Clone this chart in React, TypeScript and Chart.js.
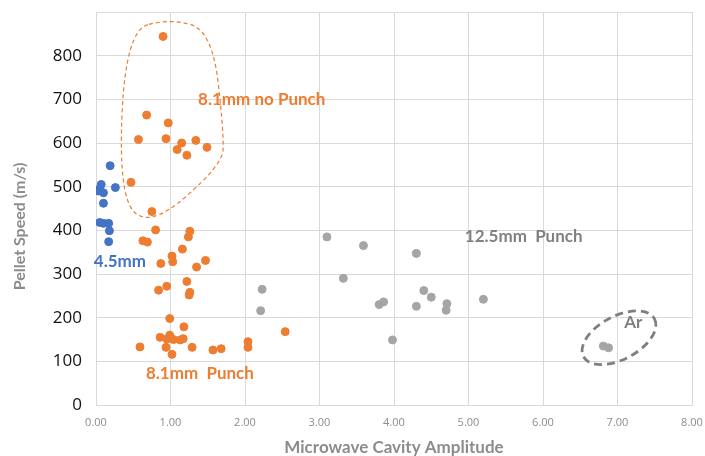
import React, { useEffect, useRef } from "react";
import { Chart, registerables } from "chart.js";

Chart.register(...registerables);

// Blue series: 4.5mm
const blueX = [0.19, 0.07, 0.05, 0.1, 0.26, 0.1, 0.05, 0.1, 0.17, 0.18, 0.17, 0.03];
const blueY = [548, 505, 495, 486, 498, 462, 418, 416, 416, 399, 374, 490];

// Orange series: 8.1mm (no punch + punch)
const orangeX = [
  0.9, 0.68, 0.97, 0.57, 0.94, 1.15, 1.09, 1.22, 1.34, 1.49, 0.47, 0.75,
  0.8, 1.26, 1.24, 0.63, 0.69, 1.16, 1.02, 1.03, 0.87, 1.47, 1.35, 1.22, 0.95,
  0.84, 1.26, 1.25, 0.99, 1.18, 0.86, 0.99, 0.95, 1.04, 1.13, 1.17, 0.94, 0.59,
  1.29, 1.02, 1.57, 1.68, 2.04, 2.04, 2.54,
];
const orangeY = [
  844, 664, 646, 608, 610, 600, 585, 572, 606, 590, 510, 443,
  401, 398, 385, 376, 373, 357, 341, 328, 324, 331, 316, 283, 272,
  263, 258, 252, 198, 179, 155, 160, 151, 150, 149, 152, 132, 133,
  132, 116, 126, 129, 145, 132, 168,
];

// Gray series: 12.5mm punch + Ar
const grayX = [3.1, 3.32, 2.23, 2.21, 3.59, 4.3, 4.4, 4.5, 3.8, 3.86, 4.3, 4.71, 4.7, 5.2, 3.98, 6.81, 6.88];
const grayY = [385, 290, 265, 216, 365, 347, 262, 247, 230, 236, 226, 232, 217, 242, 149, 135, 131];

const xTicks = [0, 1, 2, 3, 4, 5, 6, 7, 8];
const yTicks = [0, 100, 200, 300, 400, 500, 600, 700, 800, 900];

const labelTexts = ["8.1mm no Punch", "4.5mm", "8.1mm  Punch", "12.5mm  Punch", "Ar"];
const labelX = [1.37, -0.03, 0.67, 4.95, 7.09];
const labelY = [699, 329, 73, 386, 190];
const labelColors = ["#ED7D31", "#4472C4", "#ED7D31", "#808080", "#808080"];

// orange dashed outline control points (data coords)
const blobX = [0.4, 0.3, 0.72, 1.69, 1.72, 1.56, 0.99];
const blobY = [857, 480, 405, 549, 617, 857, 885];

const toPts = (xs: number[], ys: number[]) => xs.map((x, i) => ({ x, y: ys[i] }));

const annotPlugin = {
  id: "annot",
  afterDatasetsDraw(chart: any) {
    const { ctx, scales } = chart;
    const xs = scales.x;
    const ys = scales.y;
    const pxPerX = (xs.right - xs.left) / 8;
    ctx.save();
    // orange blob
    const pts = blobX.map((x, i) => [xs.getPixelForValue(x), ys.getPixelForValue(blobY[i])]);
    const n = pts.length;
    const mid = (a: number[], b: number[]) => [(a[0] + b[0]) / 2, (a[1] + b[1]) / 2];
    ctx.beginPath();
    const start = mid(pts[n - 1], pts[0]);
    ctx.moveTo(start[0], start[1]);
    for (let i = 0; i < n; i++) {
      const p = pts[i];
      const m = mid(p, pts[(i + 1) % n]);
      ctx.quadraticCurveTo(p[0], p[1], m[0], m[1]);
    }
    ctx.closePath();
    ctx.strokeStyle = "#ED7D31";
    ctx.lineWidth = 1.2;
    ctx.setLineDash([4, 3]);
    ctx.stroke();
    // Ar ellipse
    ctx.beginPath();
    ctx.ellipse(
      xs.getPixelForValue(7.02),
      ys.getPixelForValue(154),
      pxPerX * 0.54,
      pxPerX * 0.29,
      (-28 * Math.PI) / 180,
      0,
      Math.PI * 2
    );
    ctx.strokeStyle = "#7F7F7F";
    ctx.lineWidth = 2.8;
    ctx.setLineDash([8, 5]);
    ctx.stroke();
    ctx.setLineDash([]);
    // labels
    ctx.font = "bold 17px Lato, 'Open Sans', sans-serif";
    ctx.textAlign = "left";
    ctx.textBaseline = "middle";
    labelTexts.forEach((t, i) => {
      ctx.fillStyle = labelColors[i];
      ctx.fillText(t, xs.getPixelForValue(labelX[i]), ys.getPixelForValue(labelY[i]));
    });
    // y axis title
    ctx.save();
    ctx.translate(20, (ys.top + ys.bottom) / 2 + 18);
    ctx.rotate(-Math.PI / 2);
    ctx.textAlign = "center";
    ctx.fillStyle = "#8C8C8C";
    ctx.font = "bold 16px Lato, 'Open Sans', sans-serif";
    ctx.fillText("Pellet Speed (m/s)", 0, 0);
    ctx.restore();
    ctx.restore();
  },
};

export default function App() {
  const ref = useRef<HTMLCanvasElement>(null);
  useEffect(() => {
    document.body.style.margin = "0";
    const c = ref.current;
    if (!c) return;
    const dsStyle = (color: string) => ({
      backgroundColor: color,
      borderColor: color,
      pointRadius: 4,
      pointHoverRadius: 4,
      showLine: false,
    });
    const chart = new Chart(c, {
      type: "scatter",
      data: {
        datasets: [
          { label: "4.5mm", data: toPts(blueX, blueY), ...dsStyle("#4472C4") },
          { label: "8.1mm", data: toPts(orangeX, orangeY), ...dsStyle("#ED7D31") },
          { label: "12.5mm", data: toPts(grayX, grayY), ...dsStyle("#A5A5A5") },
        ],
      },
      options: {
        animation: false,
        responsive: false,
        layout: { padding: { top: 12, right: 13, left: 0, bottom: 0 } },
        plugins: { legend: { display: false }, tooltip: { enabled: false } },
        scales: {
          x: {
            type: "linear",
            min: 0,
            max: 8,
            afterBuildTicks: (s: any) => {
              s.ticks = xTicks.map((v) => ({ value: v }));
            },
            afterFit: (s: any) => {
              s.height = 51;
              s.paddingLeft = 0;
              s.paddingRight = 0;
            },
            grid: { color: "#D9D9D9", lineWidth: 1, drawTicks: false },
            border: { color: "#D9D9D9", width: 1 },
            ticks: {
              padding: 11,
              color: "#8C8C8C",
              font: { family: "'Open Sans', sans-serif", size: 11 },
              callback: (v: any) => Number(v).toFixed(2),
            },
            title: {
              display: true,
              text: "Microwave Cavity Amplitude",
              color: "#8C8C8C",
              font: { family: "Lato, 'Open Sans', sans-serif", size: 17, weight: "bold", lineHeight: 1 },
              padding: { top: 0, bottom: 0 },
            },
          },
          y: {
            type: "linear",
            min: 0,
            max: 900,
            afterBuildTicks: (s: any) => {
              s.ticks = yTicks.map((v) => ({ value: v }));
            },
            afterFit: (s: any) => {
              s.width = 96;
              s.paddingTop = 0;
              s.paddingBottom = 0;
            },
            grid: { color: "#D9D9D9", lineWidth: 1, drawTicks: false },
            border: { color: "#D9D9D9", width: 1 },
            ticks: {
              padding: 14,
              color: "#111111",
              font: { family: "'Open Sans', sans-serif", size: 17 },
              callback: (v: any) => (Number(v) >= 900 ? "" : String(v)),
            },
          },
        },
      },
      plugins: [annotPlugin],
    });
    return () => chart.destroy();
  }, []);
  return (
    <div style={{ position: "absolute", left: 0, top: 0, width: 705, height: 456, background: "#fff" }}>
      <canvas ref={ref} width={705} height={456} style={{ width: 705, height: 456 }} />
    </div>
  );
}
